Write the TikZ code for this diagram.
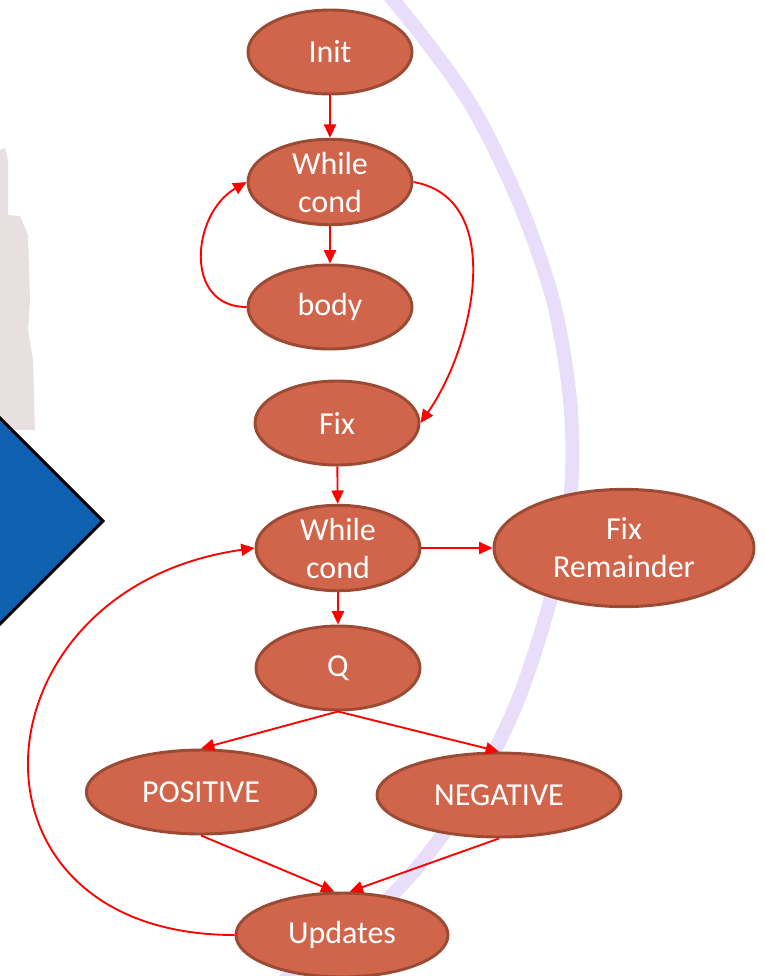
\documentclass[tikz,border=0pt]{standalone}
\usepackage{fontspec}
\setmainfont{Carlito}
\usetikzlibrary{shapes.geometric,arrows.meta}
\definecolor{nodefill}{RGB}{209,101,75}
\definecolor{nodeedge}{RGB}{155,74,52}
\definecolor{flowred}{RGB}{255,0,0}
\definecolor{bandlilac}{RGB}{232,222,250}
\definecolor{boxblue}{RGB}{16,96,176}
\definecolor{fadegray}{RGB}{232,224,224}
\tikzset{
  state/.style={ellipse, draw=nodeedge, line width=2.2pt, fill=nodefill, text=white,
    inner sep=0pt, align=center, minimum width=123pt, minimum height=63pt,
    font=\fontsize{24}{28.5}\selectfont},
  flow/.style={draw=flowred, line width=1.4pt, -{Triangle[length=10pt,width=9pt]}},
}
\begin{document}
\begin{tikzpicture}[x=0.75pt,y=0.75pt]
    \useasboundingbox (0,0) rectangle (765,-976);
    \clip (0,0) rectangle (765,-976);

    % background: faded picture, blue box, lilac band
    \fill[fadegray] (0,-150) -- (5,-148) -- (8,-160) -- (8,-215) -- (20,-216) -- (28,-235)
        -- (30,-300) -- (28,-330) -- (33,-360) -- (35,-430) -- (0,-430) -- cycle;
    \draw[fill=boxblue, draw=black, line width=2.2pt]
        (103,-521) -- (-2,-416) -- (-107,-521) -- (-2,-626) -- cycle;
    \draw[bandlilac, line width=10.5pt] plot[smooth] coordinates {
        (330,60) (393,0) (468,-100) (518,-200) (553,-300) (570,-400)
        (571,-490) (553,-590) (518,-700) (470,-795) (397,-890) (290,-976)
        (255,-1005)};

    % nodes
    \node[state] (init) at (330,-52) {Init};
    \node[state] (cond1) at (330,-182) {While\\cond};
    \node[state] (body) at (330,-307) {body};
    \node[state] (fix) at (337,-423) {Fix};
    \node[state] (cond2) at (338,-548) {While\\cond};
    \node[state, minimum width=195pt, minimum height=88pt] (rem) at (624,-548) {Fix\\Remainder};
    \node[state] (q) at (338,-668) {Q};
    \node[state, minimum width=172pt] (pos) at (201,-792) {POSITIVE};
    \node[state, minimum width=183pt] (neg) at (499,-795) {NEGATIVE};
    \node[state, minimum width=159pt] (upd) at (342,-935) {Updates};

    % edges
    \draw[flow] (init) -- (cond1);
    \draw[flow] (cond1) -- (body);
    \draw[flow] (body.west) to[out=180, in=210, looseness=1.3] (cond1.west);
    \draw[flow] (cond1.east) to[out=-10, in=55] (fix.east);
    \draw[flow] (fix) -- (cond2);
    \draw[flow] (cond2) -- (rem);
    \draw[flow] (cond2) -- (q);
    \draw[flow] (q.south) -- (pos.north);
    \draw[flow] (q.south) -- (neg.north);
    \draw[flow] (pos.south) -- (upd.100);
    \draw[flow] (neg.south) -- (upd.80);
    \draw[flow] (upd.west) to[out=180, in=188, looseness=1.9] (cond2.west);
\end{tikzpicture}
\end{document}
